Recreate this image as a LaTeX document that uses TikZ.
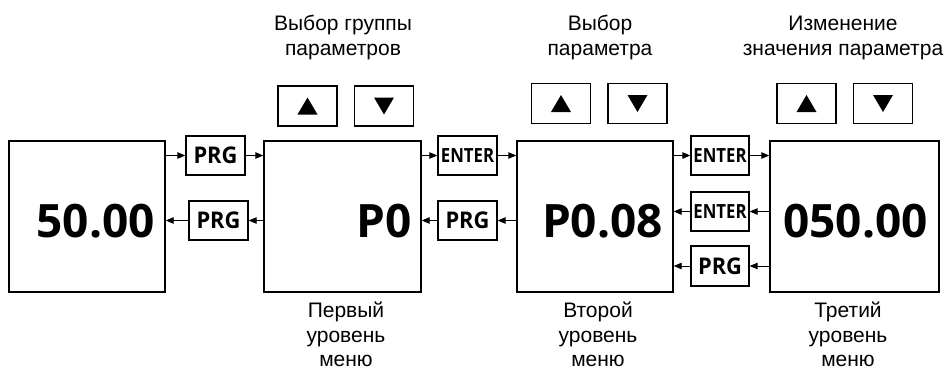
\documentclass[tikz,border=0pt]{standalone}
\usepackage{fontspec}
\setmainfont{Liberation Sans}
\newfontfamily\dispfont{Open Sans}
\usetikzlibrary{arrows.meta,calc}
\begin{document}
\begin{tikzpicture}[x=1pt,y=-1pt,
  screen/.style={draw, line width=1.4pt, minimum height=151pt, inner sep=0pt},
  key/.style={draw, line width=1.3pt, minimum width=59pt, minimum height=39pt, inner sep=0pt,
    font=\dispfont\bfseries\fontsize{23}{23}\selectfont},
  enterkey/.style={key, font=\dispfont\bfseries\fontsize{19.5}{19.5}\selectfont},
  btn/.style={draw, line width=1.2pt, minimum width=59pt, minimum height=40pt, inner sep=0pt},
  val/.style={font=\dispfont\bfseries\fontsize{46}{46}\selectfont, anchor=base east, inner sep=0pt},
  lbl/.style={font=\fontsize{21}{25}\selectfont, anchor=base, inner sep=0pt},
  arr/.style={line width=0.9pt, -{Triangle[length=8pt,width=6.5pt]}},
]
\useasboundingbox (0,0) rectangle (949,370);

% screens
\node[screen, minimum width=156pt] (b1) at (87,216.5) {};
\node[screen, minimum width=157pt] (b2) at (342.5,216.5) {};
\node[screen, minimum width=156pt] (b3) at (595,216.5) {};
\node[screen, minimum width=169pt] (b4) at (854.5,216.5) {};

\node[val] (n1) at (155,237) {50.00};
\node[val] (n2) at (412,237) {P0};
\node[val] (n3) at (663,237) {P0.08};
\node[val] (n4) at (928,237) {050.00};

% keys
\node[key] (p1) at (215.5,155.5) {\scalebox{0.95}[1]{PRG}};
\node[key] (p2) at (218.5,220.5) {\scalebox{0.95}[1]{PRG}};
\node[enterkey] (e1) at (467.5,155.5) {\scalebox{0.86}[1]{ENTER}};
\node[key] (p3) at (467.5,220.5) {\scalebox{0.95}[1]{PRG}};
\node[enterkey, minimum width=58pt] (e2) at (720,155.5) {\scalebox{0.86}[1]{ENTER}};
\node[enterkey, minimum width=58pt] (e3) at (720,211.5) {\scalebox{0.86}[1]{ENTER}};
\node[key, minimum width=58pt, minimum height=40pt] (p4) at (720,266) {\scalebox{0.95}[1]{PRG}};

% arrows
\draw[arr] (b1.east |- p1.west) -- (p1.west);
\draw[arr] (p1.east) -- (b2.west |- p1.east);
\draw[arr] (b2.west |- p2.east) -- (p2.east);
\draw[arr] (p2.west) -- (b1.east |- p2.west);
\draw[arr] (b2.east |- e1.west) -- (e1.west);
\draw[arr] (e1.east) -- (b3.west |- e1.east);
\draw[arr] (b3.west |- p3.east) -- (p3.east);
\draw[arr] (p3.west) -- (b2.east |- p3.west);
\draw[arr] (b3.east |- e2.west) -- (e2.west);
\draw[arr] (e2.east) -- (b4.west |- e2.east);
\draw[arr] (b4.west |- e3.east) -- (e3.east);
\draw[arr] (e3.west) -- (b3.east |- e3.west);
\draw[arr] (b4.west |- p4.east) -- (p4.east);
\draw[arr] (p4.west) -- (b3.east |- p4.west);

% up/down buttons
\node[btn] (u1) at (307.5,106) {};
\node[btn] (d1) at (384,106) {};
\node[btn] (u2) at (561,103.5) {};
\node[btn] (d2) at (637.5,103.5) {};
\node[btn] (u3) at (806.5,103.5) {};
\node[btn] (d3) at (883,103.5) {};
\foreach \u in {u1,u2,u3}
  \fill ($(\u.center)+(-10,8.5)$) -- ($(\u.center)+(10,8.5)$) -- ($(\u.center)+(0,-8.5)$) -- cycle;
\foreach \d in {d1,d2,d3}
  \fill ($(\d.center)+(-10,-8.5)$) -- ($(\d.center)+(10,-8.5)$) -- ($(\d.center)+(0,8.5)$) -- cycle;

% labels
\node[lbl] (t1a) at (343,30) {Выбор группы};
\node[lbl] (t1b) at (343,55) {параметров};
\node[lbl] (t2a) at (600,30) {Выбор};
\node[lbl] (t2b) at (600,55) {параметра};
\node[lbl] (t3a) at (843,30) {Изменение};
\node[lbl] (t3b) at (843,55) {значения параметра};

\node[lbl] (l1a) at (346,317) {Первый};
\node[lbl] (l1b) at (346,342) {уровень};
\node[lbl] (l1c) at (346,366.5) {меню};
\node[lbl] (l2a) at (598,317) {Второй};
\node[lbl] (l2b) at (598,342) {уровень};
\node[lbl] (l2c) at (598,366.5) {меню};
\node[lbl] (l3a) at (848,317) {Третий};
\node[lbl] (l3b) at (848,342) {уровень};
\node[lbl] (l3c) at (848,366.5) {меню};
\end{tikzpicture}
\end{document}
